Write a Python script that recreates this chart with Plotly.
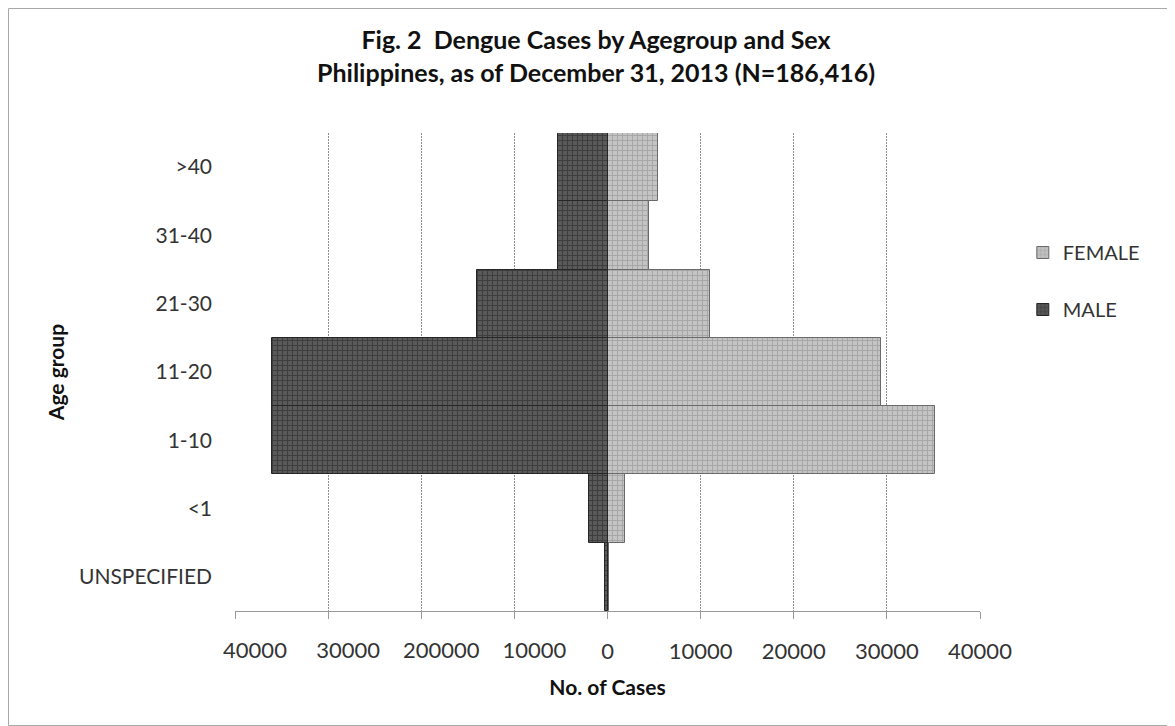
import plotly.graph_objects as go

# ---- data ----
age_groups = ["UNSPECIFIED", "<1", "1-10", "11-20", "21-30", "31-40", ">40"]
male_cases = [250, 2000, 36000, 36000, 14000, 5300, 5300]
female_cases = [150, 1900, 35200, 29400, 11000, 4500, 5400]
tick_values = [-40000, -30000, -20000, -10000, 0, 10000, 20000, 30000, 40000]
tick_labels = ["40000", "30000", "200000", "10000", "0", "10000", "20000", "30000", "40000"]

neg_vals = [v for v in tick_values if v < 0]
neg_text = [t for v, t in zip(tick_values, tick_labels) if v < 0]
pos_text = ["" if v < 0 else t for v, t in zip(tick_values, tick_labels)]

FONT = "Lato, 'Open Sans', sans-serif"

W, H = 1167, 718                   # page body has an 8px margin
L, R, T, B = 227, 972, 125, 603    # plot area in figure pixels


def px_x(p):
    return (p - L) / (R - L)


def px_y(p):
    return (B - p) / (B - T)


fig = go.Figure()
fig.add_trace(go.Bar(
    y=age_groups, x=female_cases, orientation="h", name="FEMALE", legendgroup="f",
    xaxis="x", yaxis="y",
    marker=dict(color="#bababa",
                line=dict(color="#6a6a6a", width=1),
                pattern=dict(shape="+", fgcolor="#878787", bgcolor="#c4c4c4",
                             size=5, solidity=0.35)),
))
# male bars drawn through an overlaid x axis with the identical range; that axis
# carries the (offset) labels of the negative side
fig.add_trace(go.Bar(
    y=age_groups, x=[-v for v in male_cases], orientation="h", name="MALE", legendgroup="m",
    xaxis="x2", yaxis="y",
    customdata=male_cases, hovertemplate="%{y}: %{customdata}<extra>MALE</extra>",
    marker=dict(color="#4a4a4a",
                line=dict(color="#262626", width=1),
                pattern=dict(shape="+", fgcolor="#222222", bgcolor="#5a5a5a",
                             size=5, solidity=0.4)),
))

frame = dict(color="#a8a8a8", width=1)
shapes = [
    dict(type="line", xref="paper", yref="paper", x0=px_x(0.5), x1=px_x(0.5),
         y0=px_y(0.5), y1=px_y(717.5), line=frame),
    dict(type="line", xref="paper", yref="paper", x0=px_x(0.5), x1=px_x(W),
         y0=px_y(0.5), y1=px_y(0.5), line=frame),
    dict(type="line", xref="paper", yref="paper", x0=px_x(0.5), x1=px_x(W),
         y0=px_y(717.5), y1=px_y(717.5), line=frame),
]

fig.update_layout(
    width=W, height=H,
    margin=dict(l=L, r=W - R, t=T, b=H - B),
    paper_bgcolor="white", plot_bgcolor="white",
    barmode="relative", bargap=0,
    font=dict(family=FONT, color="#333333", size=21),
    title=dict(
        text="<b>Fig. 2  Dengue Cases by Agegroup and Sex</b><br><b>Philippines, as of December 31, 2013 (N=186,416)</b>",
        x=588 / W, xanchor="center", xref="container",
        y=1 - 41 / H, yanchor="middle", yref="container",
        font=dict(family=FONT, size=25, color="#111111"),
    ),
    legend=dict(
        x=1.04 + 13 / (R - L), xanchor="left", y=px_y(225), yanchor="top",
        traceorder="grouped", font=dict(size=20, color="#333333"),
        itemwidth=30, tracegroupgap=28, bgcolor="rgba(0,0,0,0)",
    ),
    shapes=shapes,
    showlegend=True,
    xaxis=dict(
        range=[-40000, 40000], tickvals=tick_values, ticktext=pos_text, tickangle=0,
        showgrid=True, gridcolor="#8f8f8f", gridwidth=1, griddash="2px,1px",
        zeroline=False, showline=True, linecolor="#9a9a9a", linewidth=1,
        ticks="outside", ticklen=7, tickcolor="#9a9a9a",
        ticklabelstandoff=14,
        tickfont=dict(size=22, color="#333333"),
        title=dict(text="<b>No. of Cases</b>", font=dict(size=21, color="#111111"), standoff=16),
        automargin=False,
    ),
    xaxis2=dict(
        overlaying="x", anchor="y", side="bottom",
        range=[-40000, 40000], tickvals=neg_vals, ticktext=neg_text, tickangle=0,
        showgrid=False, zeroline=False, showline=False, ticks="",
        ticklabelstandoff=24, ticklabelshift=20,
        tickfont=dict(size=22, color="#333333"),
        automargin=False,
    ),
    yaxis=dict(
        categoryorder="array", categoryarray=age_groups,
        showgrid=False, zeroline=False, showline=False, ticks="",
        ticklabelstandoff=22,
        tickfont=dict(size=21, color="#333333"),
        title=dict(text="<b>Age group</b>", font=dict(size=21, color="#111111"), standoff=8),
        automargin=False,
    ),
)

fig.write_html("out.html")
